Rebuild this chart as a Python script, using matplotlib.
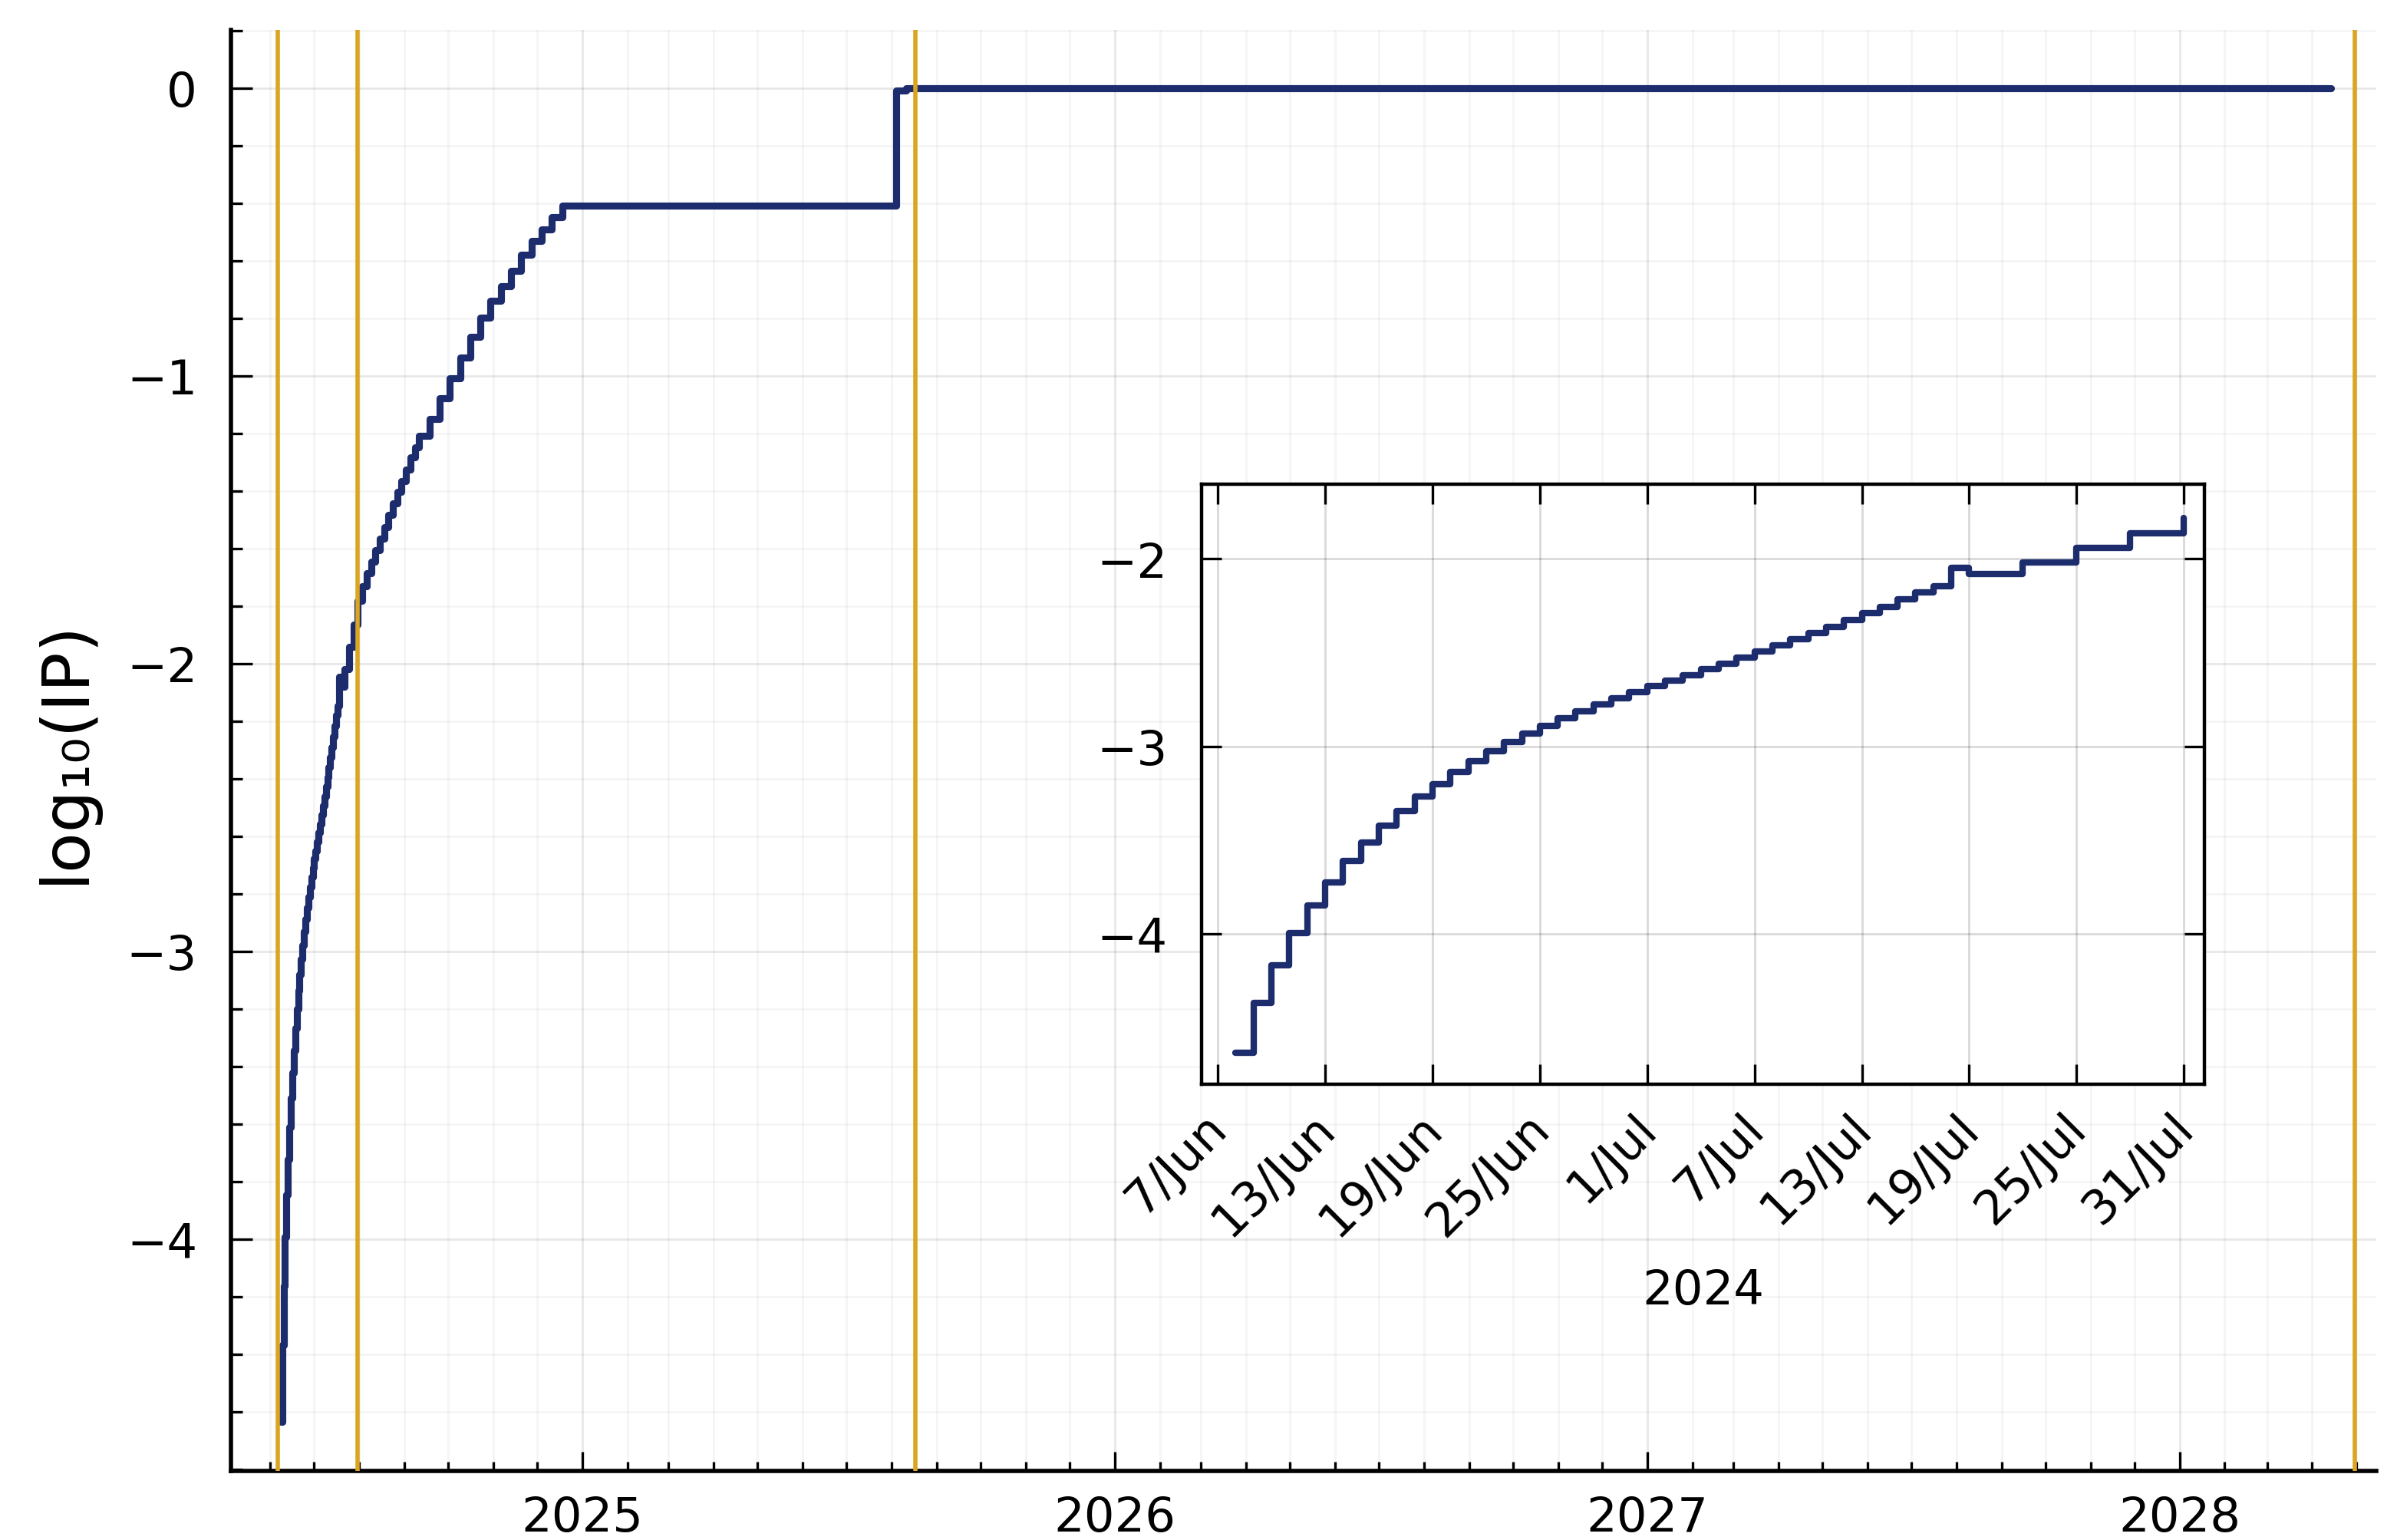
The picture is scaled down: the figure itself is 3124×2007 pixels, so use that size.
import numpy as np
import matplotlib
matplotlib.use("Agg")
import matplotlib.pyplot as plt
import matplotlib.dates as mdates
import matplotlib.transforms as mtransforms
from matplotlib.ticker import MultipleLocator, FixedLocator, FuncFormatter

# step values of log10(IP) (value holds until next date)
dates = [
    "2024-06-08", "2024-06-09", "2024-06-10", "2024-06-11", "2024-06-12", "2024-06-13",
    "2024-06-14", "2024-06-15", "2024-06-16", "2024-06-17", "2024-06-18", "2024-06-19",
    "2024-06-20", "2024-06-21", "2024-06-22", "2024-06-23", "2024-06-24", "2024-06-25",
    "2024-06-26", "2024-06-27", "2024-06-28", "2024-06-29", "2024-06-30", "2024-07-01",
    "2024-07-02", "2024-07-03", "2024-07-04", "2024-07-05", "2024-07-06", "2024-07-07",
    "2024-07-08", "2024-07-09", "2024-07-10", "2024-07-11", "2024-07-12", "2024-07-13",
    "2024-07-14", "2024-07-15", "2024-07-16", "2024-07-17", "2024-07-18", "2024-07-19",
    "2024-07-22", "2024-07-25", "2024-07-28", "2024-07-31",
    "2024-08-03", "2024-08-06", "2024-08-09", "2024-08-12", "2024-08-15", "2024-08-18",
    "2024-08-21", "2024-08-24", "2024-08-27", "2024-08-30", "2024-09-02", "2024-09-05",
    "2024-09-08", "2024-09-11",
    "2024-09-18", "2024-09-25", "2024-10-02", "2024-10-09", "2024-10-16", "2024-10-23",
    "2024-10-30", "2024-11-06", "2024-11-13", "2024-11-20", "2024-11-27", "2024-12-04",
    "2024-12-11", "2024-12-18",
    "2025-08-04", "2025-08-11", "2028-04-14",
]
log_ip = [
    -4.634, -4.368, -4.164, -3.993, -3.847, -3.723,
    -3.610, -3.510, -3.421, -3.344, -3.268, -3.200,
    -3.137, -3.080, -3.027, -2.978, -2.931, -2.889,
    -2.849, -2.812, -2.776, -2.743, -2.710, -2.679,
    -2.650, -2.619, -2.588, -2.557, -2.525, -2.494,
    -2.461, -2.428, -2.395, -2.361, -2.326, -2.290,
    -2.255, -2.217, -2.180, -2.146, -2.047, -2.080,
    -2.020, -1.942, -1.865, -1.781,
    -1.731, -1.687, -1.647, -1.607, -1.567, -1.527,
    -1.483, -1.443, -1.403, -1.367, -1.327, -1.283,
    -1.247, -1.207,
    -1.149, -1.078, -1.007, -0.936, -0.865, -0.798,
    -0.740, -0.687, -0.634, -0.580, -0.531, -0.491,
    -0.447, -0.407,
    -0.007, 0.0, 0.0,
]
event_dates = ["2024-06-06", "2024-07-31", "2025-08-17", "2028-04-30"]
inset_end = "2024-07-31"
inset_ticks = ["2024-06-07", "2024-06-13", "2024-06-19", "2024-06-25", "2024-07-01",
               "2024-07-07", "2024-07-13", "2024-07-19", "2024-07-25", "2024-07-31"]

NAVY = "#1c2c6c"
GOLD = "#daa520"

plt.rcParams["font.family"] = ["DejaVu Sans"]

t = np.array(dates, dtype="datetime64[D]")
y = np.array(log_ip)
d2n = lambda s: mdates.date2num(np.datetime64(s))

fig = plt.figure(figsize=(15.62, 10.04), dpi=200)

# main axes
ax = fig.add_axes([0.0965, 0.0448, 0.8949, 0.9352])
ax.step(t, y, where="post", color=NAVY, lw=3.3, solid_capstyle="round",
        solid_joinstyle="round", zorder=3)
for d in event_dates:
    ax.axvline(np.datetime64(d), color=GOLD, lw=2.0, zorder=4)

ax.set_xlim(d2n("2024-05-05") + 0.2, d2n("2028-05-15"))
ax.set_ylim(-4.806, 0.202)
ax.xaxis.set_major_locator(mdates.YearLocator())
ax.xaxis.set_major_formatter(mdates.DateFormatter("%Y"))
ax.xaxis.set_minor_locator(mdates.MonthLocator())
ax.yaxis.set_major_locator(MultipleLocator(1))
ax.yaxis.set_minor_locator(MultipleLocator(0.2))

for s in ["top", "right"]:
    ax.spines[s].set_visible(False)
for s in ["left", "bottom"]:
    ax.spines[s].set_linewidth(2.0)

ax.tick_params(axis="both", which="both", direction="in", width=1.2, labelsize=22.5)
ax.tick_params(axis="y", which="major", length=10, pad=16)
ax.tick_params(axis="y", which="minor", length=5.4)
ax.tick_params(axis="x", which="major", length=9, pad=11)
ax.tick_params(axis="x", which="minor", length=4.3)

ax.grid(which="major", color="k", alpha=0.09, lw=1.0)
ax.grid(which="minor", color="k", alpha=0.04, lw=1.0)
ax.set_ylabel("log₁₀(IP)", fontsize=31)
ax.yaxis.set_label_coords(-0.0624, 0.5)

# inset: the first weeks
sel = t <= np.datetime64(inset_end)
axin = fig.add_axes([0.5014, 0.2958, 0.4182, 0.3897])
axin.set_facecolor("white")
axin.step(t[sel], y[sel], where="post", color=NAVY, lw=3.0, solid_capstyle="round",
          solid_joinstyle="round", zorder=3)
axin.set_xlim(d2n("2024-06-07") - 0.89, d2n("2024-07-31") + 1.14)
axin.set_ylim(-4.80, -1.60)
axin.xaxis.set_major_locator(FixedLocator([d2n(d) for d in inset_ticks]))
axin.xaxis.set_major_formatter(FuncFormatter(
    lambda v, p: f"{mdates.num2date(v).day}/{mdates.num2date(v).strftime('%b')}"))
axin.yaxis.set_major_locator(FixedLocator([-4, -3, -2]))
axin.tick_params(direction="in", top=True, right=True, length=9.2, width=1.2,
                 labelsize=22.5)
axin.tick_params(axis="y", pad=16)
axin.tick_params(axis="x", pad=8)
shift = mtransforms.ScaledTranslation(0.12, -0.02, fig.dpi_scale_trans)
for lab in axin.get_xticklabels():
    lab.set_rotation(45)
    lab.set_ha("right")
    lab.set_transform(lab.get_transform() + shift)
axin.grid(color="k", alpha=0.15, lw=1.0)
for s in axin.spines.values():
    s.set_linewidth(1.6)
axin.set_xlabel("2024", fontsize=22.5, labelpad=11)

fig.savefig("out.png", dpi=200)
